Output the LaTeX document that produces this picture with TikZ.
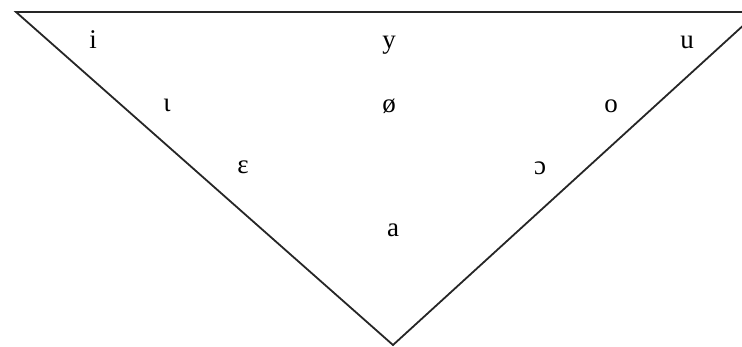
\documentclass[tikz,border=0pt]{standalone}
\usepackage{fontspec}
\setmainfont{Liberation Serif}
\begin{document}
\begin{tikzpicture}[x=1pt,y=-1pt,
  vowel/.style={anchor=base,inner sep=0pt,font=\fontsize{27}{27}\selectfont},
  edge/.style={line width=1.8pt,black!85}]
\useasboundingbox (0,0) rectangle (742,346);
\begin{scope}
\clip (0,0) rectangle (742,346);
\coordinate (tl) at (16,12);
\coordinate (tr) at (758,12);
\coordinate (bt) at (393,345);
\draw[edge,line join=miter] (tl) -- (tr) -- (bt) -- cycle;
\end{scope}
\node[vowel] (i) at (93,48) {i};
\node[vowel] (y) at (389,48) {y};
\node[vowel] (u) at (687,48) {u};
\node[vowel] (iota) at (167,111) {ɩ};
\node[vowel] (oe) at (389,112) {ø};
\node[vowel] (o) at (611,112) {o};
\node[vowel] (eps) at (243,173) {ɛ};
\node[vowel] (oo) at (540,174) {ɔ};
\node[vowel] (a) at (393,236) {a};
\end{tikzpicture}
\end{document}
